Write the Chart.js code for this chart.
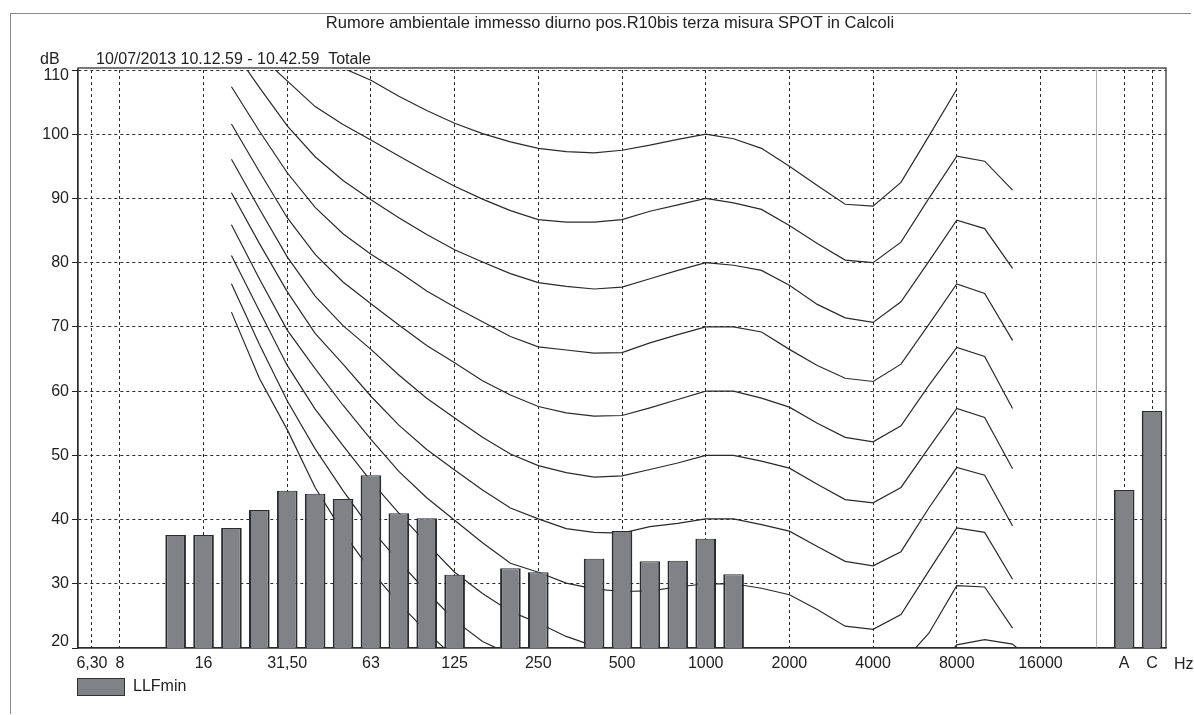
<!DOCTYPE html>
<html>
<head>
<meta charset="utf-8">
<script src="https://cdn.jsdelivr.net/npm/chart.js@4.4.0/dist/chart.umd.min.js"></script>
<style>
  body { margin: 0; background: #fff; font-family: "Liberation Sans", Arial, sans-serif; color: #222; }
  #wrap { position: relative; width: 1194px; height: 715px; }
  #frame { position: absolute; left: 10px; top: 13px; width: 1180px; height: 700px; border-left: 1px solid #888; border-top: 1px solid #888; }
  .txt { position: absolute; font-size: 16px; white-space: nowrap; line-height: 18px; }
  #legBox { position: absolute; left: 77px; top: 678px; width: 46px; height: 16px; background: #808285; border: 1px solid #333; }
</style>
</head>
<body>
<div id="wrap">
  <div id="frame"></div>
  <canvas id="noiseChart" width="1194" height="715"></canvas>
  <div class="txt" id="title" style="left:610px; top:13px; transform:translateX(-50%); font-size:16.5px;">Rumore ambientale immesso diurno pos.R10bis terza misura SPOT in Calcoli</div>
  <div class="txt" style="left:40px; top:50px;">dB</div>
  <div class="txt" style="left:96px; top:50px;">10/07/2013 10.12.59 - 10.42.59&nbsp;&nbsp;Totale</div>
  <div class="txt" style="left:1174px; top:655px;">Hz</div>
  <div id="legBox"></div>
  <div class="txt" style="left:133px; top:677px;">LLFmin</div>
</div>
<script>
// third-octave bands + separator + A/C totals
var bands = ['6,30','8','10','12,50','16','20','25','31,50','40','50','63','80','100','125','160','200',
  '250','315','400','500','630','800','1000','1250','1600','2000','2500','3150','4000','5000','6300',
  '8000','10000','12500','16000','20000','','A','C'];
var shownLabels = ['6,30','8','16','31,50','63','125','250','500','1000','2000','4000','8000','16000','A','C'];
var sepIndex = 36;

// LLFmin bars (dB), aligned with bands
var llfMin = [null,null,null,37.6,37.6,38.7,41.5,44.5,44.0,43.2,46.9,41.0,40.2,31.4,null,32.4,
  31.8,null,33.9,38.2,33.5,33.6,37.0,31.5,null,null,null,null,null,null,null,
  null,null,null,null,null,null,44.6,56.9];

// equal loudness curves, values from 20 Hz (band index 5) onward
var curveStart = 5;
var phon100 = [126,121,117,113.5,110.3,108.4,105.9,103.7,101.7,100.1,98.8,97.8,97.3,97.1,97.5,98.3,99.2,100.0,99.3,97.8,95.0,92.0,89.1,88.8,92.5,99.7,107.0];
var phon90 = [118,112.3,108.3,104.3,101.5,99.1,96.6,94.2,91.9,89.9,88.1,86.7,86.3,86.3,86.7,88.0,89.0,90.0,89.3,88.3,85.8,83.0,80.4,80.0,83.2,90.0,96.6,95.8,91.3];
var phon80 = [113.5,107.3,101.3,96.5,92.8,89.8,87.0,84.4,82.0,80.1,78.3,76.9,76.3,75.9,76.2,77.5,78.8,80.0,79.6,78.8,76.5,73.5,71.4,70.7,73.9,80.2,86.6,85.3,79.1];
var phon70 = [107.4,100.5,94.0,88.6,84.5,81.3,78.6,75.6,73.1,70.8,68.5,66.9,66.4,65.9,66.0,67.5,68.8,70.0,70.0,69.2,66.5,64.0,62.0,61.5,64.2,70.4,76.7,75.2,67.9];
var phon60 = [101.6,94.2,87.0,81.3,77.0,73.6,70.3,67.1,64.4,61.6,59.4,57.6,56.6,56.1,56.2,57.4,58.7,60.0,60.0,58.9,57.5,55.0,52.8,52.1,54.6,60.9,66.8,65.4,57.3];
var phon50 = [96.1,88.4,80.9,74.8,70.2,66.5,62.5,58.9,55.8,52.8,50.2,48.4,47.3,46.6,46.8,47.8,48.8,50.0,50.0,49.1,48.0,45.5,43.1,42.6,45.0,51.2,57.3,55.9,47.9];
var phon40 = [90.9,83.0,75.5,69.0,64.2,59.2,54.7,50.9,47.7,44.6,41.8,40.1,38.6,38.0,37.9,38.9,39.4,40.1,40.1,39.2,38.2,35.8,33.5,32.8,35.0,41.8,48.1,46.9,39.0];
var phon30 = [85.9,77.5,69.5,63.5,57.8,52.5,47.5,43.4,39.9,36.4,33.2,31.8,30.1,29.2,28.8,28.9,29.5,30.0,30.0,29.3,28.3,26.0,23.4,22.9,25.2,32.0,38.7,38.0,30.7];
var phon20 = [81.1,72.5,64.0,57.2,51.5,46.0,41.0,36.3,31.8,28.5,25.7,23.9,21.8,20.3,19.6,19.4,19.6,20.0,20.1,19.3,18.3,16.3,14.3,13.8,17.5,22.3,29.7,29.5,23.1];
var phon10 = [76.7,67.3,58.5,51.0,44.5,38.5,33.5,28.8,24.3,21.0,19.0,17.5,null,null,null,null,null,null,null,null,null,null,null,null,null,15.5,20.5,21.3,20.6,17.0];
var phon0 = [72.3,62.0,54.0,45.0,38.0,32.0,27.0,22.5,18.5,15.0];

var curves = [phon100, phon90, phon80, phon70, phon60, phon50, phon40, phon30, phon20, phon10, phon0];

function onBands(vals) {
    var out = [];
    for (var i = 0; i < bands.length; i++) {
        var v = vals[i - curveStart];
        out.push(v === undefined ? null : v);
    }
    return out;
}

var datasets = [{
    type: 'bar',
    label: 'LLFmin',
    data: llfMin,
    backgroundColor: '#808285',
    borderColor: '#2b2c33',
    borderWidth: { left: 2, right: 2, top: 1, bottom: 0 },
    borderSkipped: false,
    barPercentage: 0.74,
    categoryPercentage: 1,
    order: 0
}];
curves.forEach(function (c, i) {
    datasets.push({
        type: 'line',
        label: 'curve' + i,
        data: onBands(c),
        borderColor: '#2a2a2a',
        borderWidth: 1.2,
        pointRadius: 0,
        tension: 0,
        spanGaps: false,
        fill: false,
        order: 1
    });
});

// frame of the plot and the faint separator before A/C
var framePlugin = {
    id: 'frame',
    beforeDatasetsDraw: function (chart) {
        var ctx = chart.ctx, a = chart.chartArea;
        var sx = chart.scales.x.getPixelForValue(sepIndex);
        ctx.save();
        ctx.strokeStyle = '#b0b0b0';
        ctx.lineWidth = 1;
        ctx.beginPath();
        ctx.moveTo(Math.round(sx) + 0.5, a.top);
        ctx.lineTo(Math.round(sx) + 0.5, a.bottom);
        ctx.stroke();
        ctx.strokeStyle = '#333';
        ctx.lineWidth = 1.3;
        ctx.strokeRect(a.left, a.top - 2, a.right - a.left, a.bottom - a.top + 2);
        ctx.restore();
    }
};

var tickFont = { family: '"Liberation Sans", Arial, sans-serif', size: 16 };

var ctx = document.getElementById('noiseChart').getContext('2d');
window.noiseChart = new Chart(ctx, {
    type: 'bar',
    data: { labels: bands, datasets: datasets },
    plugins: [framePlugin],
    options: {
        responsive: false,
        animation: false,
        layout: { padding: { left: 20, right: 28, top: 70, bottom: 37 } },
        plugins: { legend: { display: false }, tooltip: { enabled: false } },
        scales: {
            x: {
                offset: true,
                grid: {
                    offset: false,
                    drawTicks: false,
                    lineWidth: 1,
                    color: function (c) {
                        return shownLabels.indexOf(bands[c.index]) >= 0 ? '#2a2a2a' : 'rgba(0,0,0,0)';
                    }
                },
                border: { display: true, color: '#222', width: 1.3, dash: [3, 3] },
                ticks: {
                    autoSkip: false,
                    maxRotation: 0,
                    padding: 6,
                    color: '#222',
                    font: tickFont,
                    callback: function (v, i) {
                        return shownLabels.indexOf(bands[i]) >= 0 ? bands[i] : '';
                    }
                },
                afterFit: function (s) { s.height = 30; }
            },
            y: {
                min: 20,
                max: 110,
                ticks: {
                    stepSize: 10,
                    padding: 3,
                    color: '#222',
                    font: { family: tickFont.family, size: 16, lineHeight: 0.75 },
                    // end labels sit just inside the range, as in the original print
                    callback: function (v) {
                        if (v === 110) return ['', '110'];
                        if (v === 20) return ['20', ''];
                        return String(v);
                    }
                },
                grid: {
                    tickLength: 6,
                    tickColor: '#222',
                    color: function (c) {
                        return c.tick && c.tick.value === 20 ? 'rgba(0,0,0,0)' : '#2a2a2a';
                    }
                },
                border: { display: true, color: '#222', width: 1.3, dash: [3, 3] },
                afterFit: function (s) { s.width = 58; }
            }
        }
    }
});
</script>
</body>
</html>
